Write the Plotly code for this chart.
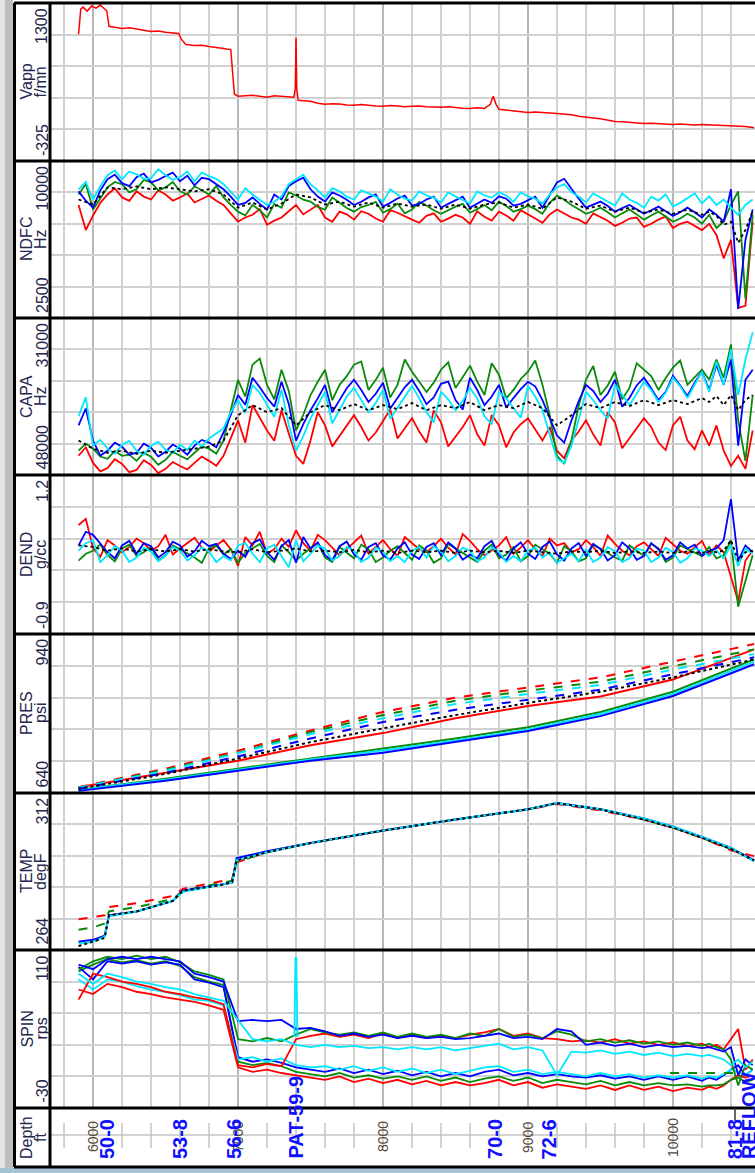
import plotly.graph_objects as go

W, H = 755, 1173

# ---------------- data ----------------
# 100 ft sampling (50 ft at the bottom of the well) for smoother curves
DEPTH = [5900, 6000, 6100, 6200, 6300, 6400, 6500, 6600, 6700, 6800,
         6900, 7000, 7100, 7200, 7300, 7400, 7500, 7600, 7700, 7800,
         7900, 8000, 8100, 8200, 8300, 8400, 8500, 8600, 8700, 8800,
         8900, 9000, 9100, 9200, 9300, 9400, 9500, 9600, 9700, 9800,
         9900, 10000, 10100, 10200, 10250, 10300, 10350, 10400, 10450, 10500,
         10550]
# 50 ft sampling for the noisy sensor curves
DEPTH50 = list(range(5900, 10600, 50))

VAPP_DEPTH = [5900, 5915, 5930, 5960, 5990, 6020, 6050, 6080, 6095, 6110,
              6150, 6200, 6250, 6300, 6350, 6400, 6450, 6500, 6550, 6590,
              6610, 6640, 6700, 6750, 6800, 6850, 6900, 6950, 6962, 6975,
              7000, 7050, 7100, 7150, 7200, 7250, 7300, 7350, 7385, 7395,
              7400, 7405, 7415, 7450, 7500, 7550, 7600, 7650, 7700, 7750,
              7800, 7850, 7900, 7950, 8000, 8050, 8100, 8150, 8200, 8250,
              8300, 8350, 8400, 8450, 8500, 8550, 8600, 8650, 8700, 8740,
              8760, 8780, 8800, 8850, 8900, 8950, 9000, 9050, 9100, 9150,
              9200, 9250, 9300, 9350, 9400, 9450, 9500, 9550, 9600, 9650,
              9700, 9750, 9800, 9850, 9900, 9950, 10000, 10050, 10100, 10150,
              10200, 10250, 10300, 10350, 10400, 10450, 10500, 10560]
VAPP = [977, 1237, 1258, 1217, 1269, 1248, 1279, 1237, 1217, 1060,
        1050, 1039, 1045, 1029, 1020, 1008, 1012, 998, 990, 987,
        925, 873, 862, 866, 852, 845, 831, 821, 600, 362,
        341, 348, 352, 340, 331, 345, 341, 335, 331, 420,
        946, 420, 300, 295, 289, 270, 258, 265, 262, 250,
        248, 255, 245, 240, 237, 245, 240, 232, 237, 240,
        232, 228, 227, 232, 222, 218, 216, 222, 216, 258,
        341, 258, 206, 198, 190, 185, 175, 178, 170, 168,
        164, 158, 150, 135, 123, 118, 110, 95, 81, 78,
        72, 66, 60, 62, 58, 52, 50, 55, 48, 45,
        50, 46, 44, 40, 39, 35, 30, 18]

NDFC_RED = [7900, 6700, 7400, 8000, 8400, 8700, 8260, 8100, 8550, 8300, 8160, 8600, 8400, 8100, 8260, 8450, 8020, 8200, 8350, 8100,
            7900, 7500, 7100, 7300, 7430, 7700, 6950, 7150, 7300, 7600, 7900, 7450, 7680, 7900, 7300, 7100, 7580, 7450, 7200, 7600,
            7480, 7250, 7100, 7650, 7530, 7350, 7200, 7050, 7380, 7500, 7100, 7250, 7430, 7300, 7000, 7600, 7340, 7150, 7580, 7400,
            7150, 7650, 7430, 7250, 7050, 7450, 7680, 7500, 7300, 7200, 7000, 7500, 7340, 7150, 6900, 7050, 7250, 7300, 6850, 7000,
            7200, 7350, 6800, 7000, 7100, 6900, 6700, 7000, 6470, 5350, 6230, 2980, 3080, 7100]
NDFC_GREEN = [8400, 8900, 7680, 8200, 8740, 9000, 8890, 8500, 8650, 9100, 8980, 8600, 8740, 9000, 8550, 8400, 8790, 8600, 8400, 8800,
              8260, 7900, 7580, 7400, 7900, 7650, 7300, 7950, 7770, 8500, 8350, 8150, 8060, 7800, 7680, 8250, 8020, 7750, 7580, 7800,
              7900, 8050, 7530, 7700, 7970, 7500, 7680, 8050, 7870, 7650, 7480, 7650, 7820, 7950, 7530, 7700, 7900, 7650, 8060, 7850,
              7580, 7700, 7870, 7700, 7480, 8000, 8350, 8150, 7900, 7700, 7480, 7600, 7770, 7550, 7300, 7500, 7680, 7450, 7200, 7400,
              7580, 7350, 7100, 7250, 7480, 7300, 7000, 7430, 6800, 7100, 7900, 8550, 3420, 7430]
NDFC_BLUE = [8550, 8100, 7770, 8600, 9130, 9350, 8940, 8800, 9230, 9400, 8980, 9100, 9280, 9450, 9030, 9300, 8840, 9200, 9130, 8900,
             8650, 8300, 7900, 8000, 8260, 7950, 7680, 8400, 8160, 8800, 9030, 9200, 8650, 8300, 8060, 8500, 8350, 8150, 7900, 8050,
             8260, 8400, 7820, 8000, 8210, 8350, 7870, 7950, 8160, 8300, 7770, 7950, 8110, 8300, 7770, 7950, 8160, 8000, 8310, 8200,
             7870, 7950, 8110, 8300, 7770, 8400, 8980, 9150, 8650, 8200, 7770, 7900, 8060, 7850, 7580, 7750, 7900, 7700, 7480, 7650,
             7820, 7600, 7380, 7550, 7770, 7550, 7300, 7680, 7430, 7100, 8650, 2930, 6230, 7680]
NDFC_CYAN = [8650, 9000, 8160, 8800, 9320, 9550, 9130, 9500, 9370, 9150, 9180, 9600, 9320, 9100, 9230, 9500, 9030, 9450, 9280, 9150,
             8890, 8500, 8160, 8700, 8400, 8150, 7900, 8050, 8310, 8900, 9130, 9350, 8890, 8600, 8260, 8700, 8550, 8300, 8160, 8600,
             8450, 8300, 8060, 8650, 8400, 8200, 8110, 8550, 8350, 8250, 8020, 8500, 8310, 8150, 7970, 8550, 8350, 8250, 8500, 8350,
             8060, 8500, 8310, 8200, 7970, 8400, 8740, 8900, 8500, 8300, 8020, 8450, 8260, 8100, 7870, 8450, 8160, 8000, 7770, 8300,
             8110, 8400, 7820, 8000, 8210, 8450, 7970, 8310, 7900, 8160, 7770, 7430, 7900, 8160]
NDFC_BLACK = [8160, 7920, 8740, 8650, 8790, 8650, 8740, 8650, 8550, 8650, 8400, 7770, 8020, 7680, 7970, 8400, 8260, 7920, 8060, 7820, 8020, 7770, 7970, 7820, 7920, 7720, 7920, 7720, 7920, 8020, 7770, 7920, 7720, 8260, 8060, 7720, 7870, 7580, 7770, 7530, 7680, 7480, 7680, 7430, 7580, 7380, 6950, 7100, 6090, 6710, 7580]

CAPA_RED = [45920, 45000, 46690, 47600, 47240, 46300, 46800, 47700, 47450, 46400, 46910, 47800, 47340, 46600, 47020, 47400, 46690, 46000, 46470, 47000,
            45920, 44000, 42080, 44500, 40430, 41800, 43180, 44300, 40980, 43500, 45920, 46800, 44270, 41200, 42630, 44900, 43730, 42600, 41530, 42800,
            44270, 43400, 42080, 40900, 44050, 43000, 41860, 43300, 44490, 41000, 42300, 44900, 43840, 42800, 41530, 43600, 44820, 41500, 42630, 45000,
            43400, 42500, 41860, 43000, 44270, 42800, 45370, 46200, 44270, 43300, 42080, 43600, 44820, 41200, 42300, 45100, 44050, 43000, 41860, 42800,
            44490, 45300, 42630, 41700, 44270, 45200, 43180, 44820, 42630, 45370, 47020, 45920, 47340, 43180]
CAPA_GREEN = [45370, 44600, 45150, 46000, 46250, 45400, 45920, 45800, 46470, 45600, 46030, 46900, 46360, 45500, 45920, 46300, 45590, 44900, 45150, 45700,
              44270, 41000, 37690, 39500, 36050, 35400, 38240, 39800, 36600, 38900, 43180, 41500, 39340, 37900, 36600, 39900, 38240, 37300, 36050, 35700,
              38790, 37700, 36380, 39600, 38240, 35500, 36820, 37900, 39010, 38000, 36600, 35800, 38570, 37400, 36160, 37900, 39340, 35900, 37140, 39700,
              38790, 37600, 36820, 35600, 38240, 41500, 45920, 46800, 44270, 40500, 37690, 36200, 39340, 38300, 36820, 39800, 38570, 35900, 36600, 37300,
              38790, 37500, 36380, 35600, 38240, 37400, 36600, 37690, 35500, 37470, 33850, 42080, 46470, 39340]
CAPA_BLUE = [42630, 40800, 44270, 45900, 45370, 44500, 44930, 45800, 45590, 44600, 45040, 46000, 45480, 44700, 45150, 45800, 44820, 44200, 44490, 45000,
             43400, 41500, 39340, 40400, 37470, 38500, 39670, 40600, 37910, 40300, 44270, 42500, 40980, 39700, 38240, 41200, 39890, 38600, 37690, 38800,
             40100, 39200, 38020, 40800, 39670, 38500, 37690, 38900, 40320, 39600, 38130, 37900, 39890, 40900, 37470, 38800, 40430, 39500, 38240, 40700,
             39670, 38700, 37910, 38400, 39890, 41800, 43730, 44500, 42080, 40000, 38240, 38900, 40100, 39200, 37690, 40600, 39670, 38300, 37470, 38600,
             39890, 39000, 37250, 38300, 39450, 38000, 36820, 38790, 36050, 38240, 35500, 44820, 37690, 36600]
CAPA_CYAN = [41640, 39600, 44820, 44200, 45150, 45700, 44710, 44300, 45370, 45800, 44820, 44400, 45260, 45600, 44710, 45300, 44270, 44900, 44050, 43500,
             42960, 41200, 39890, 41300, 38240, 39100, 40430, 41700, 38790, 42600, 45370, 43800, 41860, 40500, 39010, 42400, 40980, 39500, 38570, 39900,
             41200, 40200, 38790, 41900, 40760, 39600, 38350, 39700, 41200, 42300, 39010, 39800, 40980, 40000, 38570, 39700, 41640, 42500, 39010, 39700,
             40760, 41800, 38350, 39500, 40980, 43500, 46250, 46700, 44820, 42000, 39010, 39900, 40980, 41900, 38240, 39300, 40430, 39200, 37910, 38800,
             40100, 39100, 37470, 38400, 39670, 38200, 36820, 39010, 35720, 38240, 34400, 39340, 35500, 32540]
CAPA_BLACK = [44270, 45150, 45590, 45370, 45700, 45370, 45590, 45370, 45150, 44930, 44270, 41530, 40430, 41200, 40760, 42630, 41200, 40430, 40980, 40320, 40980, 40430, 40870, 40210, 40980, 40430, 40760, 40100, 40980, 40430, 40760, 40100, 40760, 42630, 41530, 40320, 40760, 40100, 40540, 39890, 40430, 39890, 40320, 39670, 40100, 39450, 40430, 39340, 40980, 39890, 39340]

DEND_RED = [0.54, 0.62, 0.23, 0.12, 0.34, 0.27, 0.18, 0.25, 0.36, 0.30, 0.20, 0.26, 0.41, 0.15, 0.23, 0.30, 0.37, 0.24, 0.18, 0.27,
            0.34, 0.22, 0.00, 0.38, 0.27, 0.45, 0.16, 0.22, 0.36, 0.25, 0.47, 0.30, 0.20, 0.41, 0.34, 0.24, 0.14, 0.22, 0.31, 0.40,
            0.16, 0.25, 0.34, 0.22, 0.13, 0.38, 0.30, 0.22, 0.18, 0.26, 0.36, 0.24, 0.15, 0.42, 0.33, 0.22, 0.14, 0.20, 0.27, 0.38,
            0.16, 0.24, 0.34, 0.22, 0.13, 0.36, 0.27, 0.30, 0.18, 0.22, 0.34, 0.25, 0.13, 0.40, 0.29, 0.20, 0.14, 0.26, 0.31, 0.22,
            0.13, 0.37, 0.29, 0.20, 0.16, 0.24, 0.33, 0.14, 0.27, 0.18, -0.13, -0.47, 0.07, 0.20]
DEND_GREEN = [0.07, 0.16, 0.20, 0.28, 0.14, 0.06, 0.23, 0.28, 0.13, 0.18, 0.25, 0.07, 0.14, 0.27, 0.22, 0.17, 0.11, 0.04, 0.23, 0.27,
              0.15, 0.22, 0.04, 0.17, 0.23, 0.29, 0.13, 0.05, 0.27, 0.18, 0.07, 0.16, 0.23, 0.30, 0.11, 0.05, 0.25, 0.17, 0.10, 0.28,
              0.22, 0.05, 0.11, 0.20, 0.26, 0.17, 0.08, 0.27, 0.20, 0.04, 0.10, 0.29, 0.23, 0.16, 0.11, 0.05, 0.20, 0.28, 0.10, 0.15,
              0.25, 0.06, 0.13, 0.28, 0.22, 0.16, 0.04, 0.26, 0.19, 0.06, 0.10, 0.28, 0.23, 0.17, 0.11, 0.07, 0.27, 0.20, 0.13, 0.29,
              0.23, 0.05, 0.11, 0.27, 0.22, 0.17, 0.13, 0.25, 0.10, 0.14, 0.34, -0.54, -0.20, 0.14]
DEND_BLUE = [0.27, 0.45, 0.41, 0.30, 0.18, 0.10, 0.27, 0.33, 0.16, 0.30, 0.26, 0.11, 0.18, 0.32, 0.27, 0.12, 0.19, 0.33, 0.26, 0.29,
             0.16, 0.09, 0.20, 0.12, 0.30, 0.35, 0.18, 0.08, 0.26, 0.34, 0.04, 0.38, 0.23, 0.31, 0.14, 0.07, 0.26, 0.32, 0.15, 0.08,
             0.25, 0.30, 0.14, 0.08, 0.23, 0.31, 0.15, 0.09, 0.25, 0.30, 0.14, 0.31, 0.23, 0.08, 0.15, 0.10, 0.26, 0.33, 0.14, 0.07,
             0.23, 0.31, 0.16, 0.09, 0.25, 0.32, 0.15, 0.07, 0.23, 0.30, 0.13, 0.29, 0.22, 0.07, 0.14, 0.31, 0.23, 0.08, 0.13, 0.30,
             0.22, 0.08, 0.14, 0.31, 0.23, 0.28, 0.13, 0.20, 0.23, 0.34, 0.88, 0.07, 0.27, 0.18]
DEND_CYAN = [0.20, 0.30, 0.34, 0.05, 0.14, 0.26, 0.20, 0.05, 0.11, 0.24, 0.19, 0.06, 0.13, 0.25, 0.20, 0.07, 0.14, 0.24, 0.19, 0.05,
             0.13, 0.07, 0.27, 0.30, 0.16, 0.05, 0.23, 0.28, 0.13, -0.02, 0.34, 0.06, 0.16, 0.27, 0.23, 0.07, 0.13, 0.25, 0.20, 0.05,
             0.11, 0.24, 0.19, 0.06, 0.13, 0.05, 0.20, 0.25, 0.11, 0.26, 0.19, 0.06, 0.13, 0.24, 0.20, 0.06, 0.11, 0.25, 0.18, 0.05,
             0.13, 0.06, 0.20, 0.24, 0.11, 0.18, 0.04, 0.10, 0.16, 0.06, 0.22, 0.05, 0.11, 0.25, 0.19, 0.05, 0.10, 0.23, 0.20, 0.05,
             0.11, 0.24, 0.18, 0.04, 0.10, 0.23, 0.20, 0.13, 0.20, 0.10, 0.27, 0.00, 0.23, 0.16]
DEND_BLACK = [0.27, 0.25, 0.20, 0.23, 0.19, 0.22, 0.19, 0.22, 0.19, 0.22, 0.19, 0.18, 0.22, 0.18, 0.20, 0.23, 0.19, 0.20, 0.18, 0.21, 0.18, 0.20, 0.17, 0.20, 0.18, 0.20, 0.17, 0.20, 0.18, 0.20, 0.17, 0.20, 0.18, 0.16, 0.19, 0.18, 0.20, 0.17, 0.19, 0.17, 0.19, 0.17, 0.19, 0.17, 0.19, 0.18, 0.20, 0.34, 0.07, 0.18, 0.20]

PRES_DEPTH = [5900, 6500, 7000, 7500, 8000, 8500, 9000, 9500, 10000, 10560]
PRES_RED_DASH = [651, 686, 720, 758, 793, 820, 839, 858, 888, 921]
PRES_GREEN_DASH = [650, 684, 716, 755, 787, 814, 833, 850, 879, 911]
PRES_CYAN_DASH = [650, 682, 715, 751, 781, 808, 827, 844, 873, 902]
PRES_BLUE_DASH = [648, 678, 709, 743, 774, 797, 816, 835, 864, 896]
PRES_BLACK_DOT = [648, 676, 705, 736, 762, 787, 810, 831, 858, 892]
PRES_RED = [651, 678, 701, 730, 753, 781, 804, 822, 854, 911]
PRES_GREEN = [646, 667, 686, 705, 724, 743, 764, 793, 831, 892]
PRES_CYAN = [646, 665, 684, 703, 720, 739, 760, 789, 827, 888]
PRES_BLUE = [644, 663, 682, 701, 716, 736, 757, 785, 823, 883]

TEMP_DEPTH = [5900, 6000, 6080, 6110, 6300, 6550, 6620, 6900, 6960, 6990,
              7200, 7500, 8000, 8500, 9000, 9200, 9300, 9500, 9800, 10000,
              10200, 10400, 10560]
TEMP_RED = [273.4, 274.0, 274.6, 277.1, 278.3, 280.5, 282.7, 285.2, 285.8, 290.8, 293.9, 296.7, 300.5, 303.9, 307.0, 308.6, 308.0, 306.7, 303.9, 301.4, 298.3, 294.5, 292.7]
TEMP_GREEN = [270.2, 270.9, 272.1, 275.8, 277.1, 279.6, 282.1, 284.6, 285.2, 290.8, 293.9, 296.7, 300.5, 303.9, 307.0, 308.9, 308.3, 307.0, 303.9, 301.4, 298.3, 294.9, 291.4]
TEMP_BLUE = [266.5, 267.1, 268.4, 274.6, 275.8, 279.0, 282.1, 284.0, 284.6, 292.1, 294.2, 296.7, 300.5, 303.9, 307.0, 308.9, 308.3, 307.0, 304.2, 301.7, 298.6, 295.2, 291.4]
TEMP_CYAN = [265.9, 266.5, 268.1, 274.3, 275.8, 279.0, 281.8, 284.0, 284.6, 291.4, 293.9, 296.7, 300.5, 303.9, 307.0, 308.9, 308.3, 307.0, 304.2, 301.7, 298.6, 295.2, 291.1]
TEMP_BLACK = [265.2, 266.5, 267.7, 274.6, 275.8, 279.0, 282.1, 284.0, 284.9, 291.4, 293.9, 296.7, 300.5, 303.9, 307.0, 308.9, 308.3, 307.0, 303.9, 301.4, 298.3, 294.9, 291.4]

SPIN_BLUE_A = [97, 93, 102, 104, 102, 104, 102, 100, 89, 86, 82, 47, 48, 47, 48, 40, 41, 38, 34, 36, 33, 35, 32, 34, 32, 33, 31, 32, 34, 36, 32, 33, 31, 40, 38, 26, 28, 25, 27, 24, 26, 24, 25, 23, 24, 22, 20, 24, -1, 13, 8]
SPIN_GREEN_A = [93, 100, 104, 102, 105, 102, 104, 99, 91, 88, 84, 31, 29, 32, 29, 35, 40, 37, 35, 37, 34, 37, 33, 36, 33, 35, 32, 36, 34, 40, 33, 35, 32, 38, 35, 29, 31, 28, 30, 27, 29, 26, 28, 25, 27, 24, 22, 13, -10, 8, 4]
SPIN_RED_A = [66, 89, 86, 82, 80, 77, 73, 71, 68, 66, 62, 8, 6, 9, 7, 31, 34, 36, 33, 35, 32, 36, 32, 35, 32, 34, 32, 35, 37, 40, 34, 36, 32, 31, 29, 30, 28, 31, 27, 29, 26, 28, 25, 27, 24, 26, 22, 31, 40, 4, 13]
SPIN_CYAN_A = [89, 80, 89, 86, 82, 80, 77, 75, 71, 68, 65, 48, 31, 29, 31, 26, 24, 26, 24, 25, 23, 24, 22, 24, 22, 24, 21, 23, 25, 27, 22, 24, 21, -1, 20, 19, 21, 18, 20, 17, 19, 16, 18, 16, 17, 15, 13, 8, 13, 6, 11]
SPIN_BLUE_B = [95, 84, 100, 98, 100, 97, 99, 97, 84, 81, 77, 15, 11, 13, 10, 6, 4, 2, 5, 1, 4, 0, 3, -1, 2, -2, 1, -2, 2, 4, -1, 1, -2, 0, -2, -3, -1, -4, -2, -5, -2, -5, -2, -6, -3, -5, -1, 4, 8, -1, 4]
SPIN_GREEN_B = [91, 97, 102, 99, 101, 98, 100, 96, 86, 82, 79, 11, 8, 10, 7, 2, 0, -2, 1, -3, -1, -4, -2, -5, -2, -6, -3, -7, -4, -2, -6, -3, -8, -5, -7, -9, -6, -10, -7, -10, -8, -10, -9, -11, -10, -10, -9, -5, -3, -7, -5]
SPIN_RED_B = [75, 71, 80, 77, 73, 71, 68, 66, 64, 61, 57, 6, 2, 4, 1, -1, -3, -5, -2, -7, -4, -8, -5, -9, -6, -10, -7, -10, -8, -5, -10, -7, -12, -9, -11, -13, -10, -14, -10, -14, -11, -15, -12, -14, -11, -13, -10, -5, -1, -3, -1]
SPIN_CYAN_B = [84, 75, 84, 82, 78, 75, 73, 70, 66, 65, 61, 13, 15, 11, 14, 8, 6, 7, 4, 7, 3, 6, 2, 5, 1, 4, 0, 3, 6, 7, 2, 4, 0, 2, 0, -2, 1, -2, 0, -3, -1, -3, -1, -4, -2, -3, 0, 4, 2, -1, 4]
SPIN_SPIKE_DEPTH = [7388, 7396, 7402, 7410]
SPIN_SPIKE = [33, 103, 103, 33]
SPIN_FLAG_DEPTH = [9980, 10430]
SPIN_FLAG = [1, 1]

TRACK_NAMES = ["Vapp", "NDFC", "CAPA", "DEND", "PRES", "TEMP", "SPIN", "Depth"]
TRACK_UNITS = ["f/mn", "Hz", "Hz", "g/cc", "psi", "degF", "rps", "ft"]
SCALE_BOTTOM = [-325, 2500, 48000, -0.9, 640, 264, -30]
SCALE_TOP = [1300, 10000, 31000, 1.2, 940, 312, 110]
SCALE_BOTTOM_TXT = ["-325", "2500", "48000", "-0.9", "640", "264", "-30"]
SCALE_TOP_TXT = ["1300", "10000", "31000", "1.2", "940", "312", "110"]

DEPTH_LABELS = [6000, 7000, 8000, 9000, 10000]
TOP_NAMES = ["50-0", "53-8", "56-6", "PAT-59-9", "70-0", "72-6", "81-8", "REFLOW"]
TOP_DEPTHS = [6097, 6600, 6972, 7393, 8772, 9148, 10430, 10522]

# ---------------- layout helpers ----------------
X_RANGE = [5703, 10566]
XL = 50 / W
BOUNDS = [3, 161, 318, 475, 634, 793, 950, 1108, 1167]


def py(p):
    return 1 - p / H


def px(p):
    return p / W


RED, GREEN, BLUE, CYAN, BLACK = "#ff0000", "#0a8a0a", "#0000ff", "#00e8ff", "#000000"
LW = 1.8

fig = go.Figure()


def add(track, x, y, color, dash="solid", width=LW):
    fig.add_trace(go.Scatter(
        x=x, y=y, mode="lines",
        line=dict(color=color, width=width, dash=dash),
        xaxis="x" if track == 0 else "x%d" % (track + 1),
        yaxis="y" if track == 0 else "y%d" % (track + 1),
        showlegend=False, hoverinfo="skip"))


add(0, VAPP_DEPTH, VAPP, RED, width=1.5)

for vals, col in [(NDFC_RED, RED), (NDFC_GREEN, GREEN), (NDFC_BLUE, BLUE), (NDFC_CYAN, CYAN)]:
    add(1, DEPTH50, vals, col)
add(1, DEPTH, NDFC_BLACK, BLACK, "dot")

for vals, col in [(CAPA_RED, RED), (CAPA_GREEN, GREEN), (CAPA_BLUE, BLUE), (CAPA_CYAN, CYAN)]:
    add(2, DEPTH50, vals, col)
add(2, DEPTH, CAPA_BLACK, BLACK, "dot")

for vals, col in [(DEND_RED, RED), (DEND_GREEN, GREEN), (DEND_BLUE, BLUE), (DEND_CYAN, CYAN)]:
    add(3, DEPTH50, vals, col)
add(3, DEPTH, DEND_BLACK, BLACK, "dot")

for vals, col, dash in [(PRES_GREEN, GREEN, "solid"), (PRES_CYAN, CYAN, "solid"),
                        (PRES_BLUE, BLUE, "solid"), (PRES_RED, RED, "solid"),
                        (PRES_RED_DASH, RED, "dash"), (PRES_GREEN_DASH, GREEN, "dash"),
                        (PRES_CYAN_DASH, CYAN, "dash"), (PRES_BLUE_DASH, BLUE, "dash"),
                        (PRES_BLACK_DOT, BLACK, "dot")]:
    add(4, PRES_DEPTH, vals, col, dash, 2)

for vals, col, dash in [(TEMP_RED, RED, "dash"), (TEMP_GREEN, GREEN, "dash"),
                        (TEMP_BLUE, BLUE, "solid"), (TEMP_CYAN, CYAN, "solid"),
                        (TEMP_BLACK, BLACK, "dot")]:
    add(5, TEMP_DEPTH, vals, col, dash, 2)

for vals, col in [(SPIN_RED_B, RED), (SPIN_GREEN_B, GREEN), (SPIN_BLUE_B, BLUE),
                  (SPIN_CYAN_B, CYAN), (SPIN_RED_A, RED), (SPIN_GREEN_A, GREEN),
                  (SPIN_BLUE_A, BLUE), (SPIN_CYAN_A, CYAN)]:
    add(6, DEPTH, vals, col)
add(6, SPIN_SPIKE_DEPTH, SPIN_SPIKE, CYAN)
add(6, SPIN_FLAG_DEPTH, SPIN_FLAG, GREEN, "dash", 2)

# invisible anchor trace for the depth track
add(7, [X_RANGE[0]], [0.5], "rgba(0,0,0,0)")

layout = dict(width=W, height=H, margin=dict(l=0, r=0, t=0, b=0),
              paper_bgcolor="white", plot_bgcolor="white", showlegend=False)

for i in range(8):
    xn = "xaxis" if i == 0 else "xaxis%d" % (i + 1)
    yn = "yaxis" if i == 0 else "yaxis%d" % (i + 1)
    dom = [py(BOUNDS[i + 1]), py(BOUNDS[i])]
    grid = i < 7
    layout[xn] = dict(domain=[XL, 1], range=X_RANGE, anchor="y" if i == 0 else "y%d" % (i + 1),
                      showticklabels=False, ticks="", zeroline=False, showline=False,
                      showgrid=grid, tick0=0, dtick=1000, gridcolor="#b6b6b6", gridwidth=2,
                      minor=dict(tick0=0, dtick=200, showgrid=grid, gridcolor="#d0d0d0", gridwidth=1.6))
    if i < 7:
        lo, hi = SCALE_BOTTOM[i], SCALE_TOP[i]
        layout[yn] = dict(domain=dom, range=[lo, hi], anchor="x" if i == 0 else "x%d" % (i + 1),
                          showticklabels=False, ticks="", zeroline=False, showline=False,
                          showgrid=True, tick0=min(lo, hi), dtick=abs(hi - lo) / 5,
                          gridcolor="#d0d0d0", gridwidth=1.6)
    else:
        layout[yn] = dict(domain=dom, range=[0, 1], anchor="x8", showticklabels=False,
                          ticks="", zeroline=False, showline=False, showgrid=False)

shapes = []
shapes.append(dict(type="rect", xref="paper", yref="paper", x0=0, x1=px(5), y0=0, y1=1,
                   fillcolor="#e4e4e4", line=dict(width=0), layer="below"))
shapes.append(dict(type="rect", xref="paper", yref="paper", x0=px(5), x1=px(13), y0=0, y1=1,
                   fillcolor="#bdbdbd", line=dict(width=0), layer="below"))
shapes.append(dict(type="rect", xref="paper", yref="paper", x0=0, x1=1, y0=0, y1=py(1168),
                   fillcolor="#a3c3d3", line=dict(width=0)))
for d in range(5800, 10600, 200):
    shapes.append(dict(type="line", xref="x8", yref="paper", x0=d, x1=d,
                       y0=py(1148), y1=py(1123), line=dict(color="#c4c4c4", width=1.5)))
shapes.append(dict(type="line", xref="paper", yref="paper", x0=XL, x1=1,
                   y0=py(1135), y1=py(1135), line=dict(color="#c4c4c4", width=1.5)))
for b in BOUNDS:
    shapes.append(dict(type="line", xref="paper", yref="paper", x0=px(14), x1=1,
                       y0=py(b), y1=py(b), line=dict(color="black", width=3)))
for xv in [14.5, 50]:
    shapes.append(dict(type="line", xref="paper", yref="paper", x0=px(xv), x1=px(xv),
                       y0=py(BOUNDS[0]), y1=py(BOUNDS[-1]), line=dict(color="black", width=3)))
shapes.append(dict(type="line", xref="x8", yref="paper", x0=10428, x1=10428,
                   y0=py(1121), y1=py(1108), line=dict(color="#333", width=1.5)))
layout["shapes"] = shapes

LBL = "#25254d"
FONT = "Liberation Sans, Arial, sans-serif"
ann = []
for i in range(8):
    top, bot = BOUNDS[i], BOUNDS[i + 1]
    mid = (top + bot) / 2
    ann.append(dict(xref="paper", yref="paper", x=px(26.5), y=py(mid), text=TRACK_NAMES[i],
                    textangle=-90, showarrow=False, xanchor="center", yanchor="middle",
                    font=dict(family=FONT, size=16, color=LBL)))
    ann.append(dict(xref="paper", yref="paper", x=px(40.5), y=py(mid), text=TRACK_UNITS[i],
                    textangle=-90, showarrow=False, xanchor="center", yanchor="middle",
                    font=dict(family=FONT, size=16, color=LBL)))
    if i < 7:
        ann.append(dict(xref="paper", yref="paper", x=px(42), y=py(top + 3), text=SCALE_TOP_TXT[i],
                        textangle=-90, showarrow=False, xanchor="center", yanchor="top",
                        font=dict(family=FONT, size=16, color=LBL)))
        ann.append(dict(xref="paper", yref="paper", x=px(42), y=py(bot - 3), text=SCALE_BOTTOM_TXT[i],
                        textangle=-90, showarrow=False, xanchor="center", yanchor="bottom",
                        font=dict(family=FONT, size=16, color=LBL)))

for d in DEPTH_LABELS:
    ann.append(dict(xref="x8", yref="paper", x=d, y=py(1137), text=str(d), textangle=-90,
                    showarrow=False, xanchor="center", yanchor="middle",
                    font=dict(family=FONT, size=14, color="#55493a")))
for name, d in zip(TOP_NAMES, TOP_DEPTHS):
    ann.append(dict(xref="x8", yref="paper", x=d, y=py(1161), text="<b>%s</b>" % name,
                    textangle=-90, showarrow=False, xanchor="center", yanchor="bottom",
                    font=dict(family=FONT, size=20, color="#1010ff")))
layout["annotations"] = ann

fig.update_layout(**layout)
fig.write_html("out.html", config={"displayModeBar": False},
               post_script="document.body.style.margin='0';document.body.style.overflow='hidden';")
